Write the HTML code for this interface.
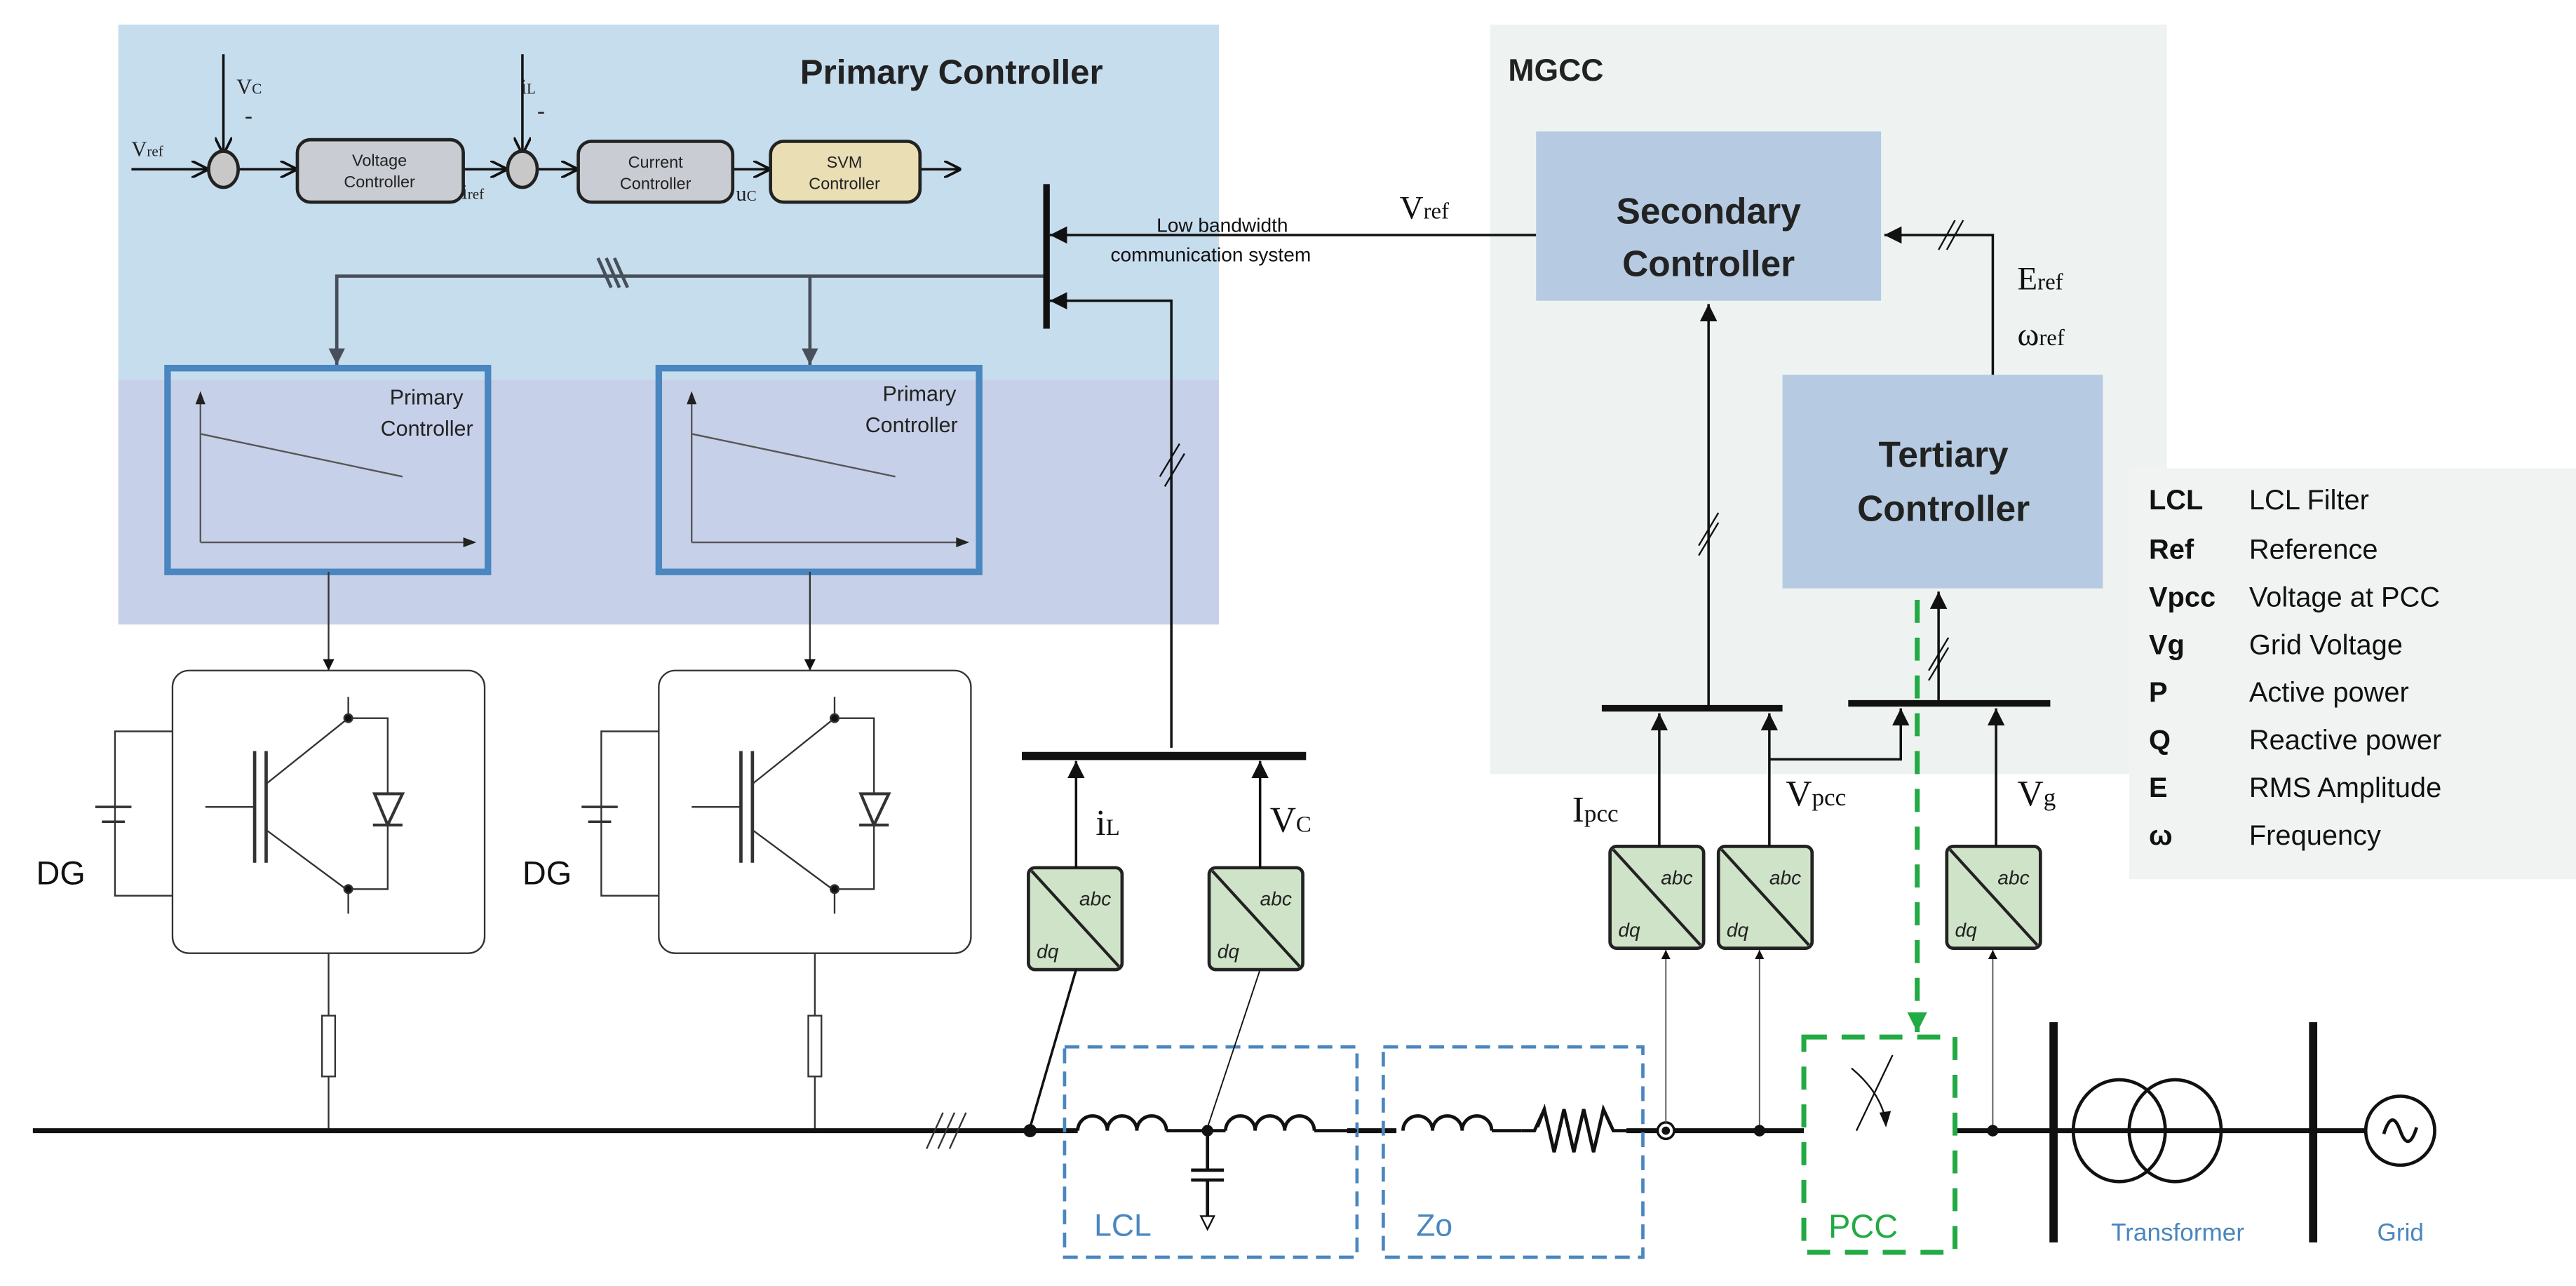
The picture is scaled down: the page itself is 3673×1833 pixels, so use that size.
<!DOCTYPE html>
<html><head><meta charset="utf-8"><style>
html,body{margin:0;padding:0;background:#fff;}
svg{display:block;}
.s{font-family:"Liberation Sans",sans-serif;}
.r{font-family:"Liberation Serif",serif;}
</style></head><body>
<svg width="3673" height="1833" viewBox="0 0 1568 782.5" preserveAspectRatio="none" xmlns="http://www.w3.org/2000/svg">
<defs>
<marker id="a" viewBox="0 0 10 10" refX="10" refY="5" markerWidth="7" markerHeight="7" orient="auto-start-reverse"><path d="M0,0L10,5L0,10z" fill="#111"/></marker>
<marker id="o" viewBox="0 0 10 10" refX="10" refY="5" markerWidth="7" markerHeight="7" orient="auto"><path d="M0,0L10,5L0,10" fill="none" stroke="#111" stroke-width="1.5"/></marker>
<marker id="g" viewBox="0 0 10 10" refX="10" refY="5" markerWidth="4" markerHeight="4" orient="auto"><path d="M0,0L10,5L0,10z" fill="#22aa44"/></marker>
<marker id="d" viewBox="0 0 10 10" refX="10" refY="5" markerWidth="6" markerHeight="5" orient="auto"><path d="M0,0L10,5L0,10z" fill="#474f5a"/></marker>
</defs>
<!-- panels -->
<rect x="72" y="15" width="670" height="216" fill="#c6ddee"/>
<rect x="72" y="231" width="670" height="149" fill="#c6d0e8"/>
<rect x="907" y="15" width="412" height="456" fill="#eef3f2"/>
<rect x="1296" y="285" width="272" height="250" fill="#f1f3f3"/>
<text x="487" y="51" class="s" font-size="21" font-weight="bold" fill="#222">Primary Controller</text>
<text x="918" y="49" class="s" font-size="19" font-weight="bold" fill="#222">MGCC</text>
<!-- top control chain -->
<g stroke="#111" stroke-width="1.5" fill="none">
<line x1="80" y1="103" x2="127" y2="103" marker-end="url(#o)"/>
<line x1="136" y1="33" x2="136" y2="94" marker-end="url(#o)"/>
<line x1="145" y1="103" x2="181" y2="103" marker-end="url(#o)"/>
<line x1="282" y1="103" x2="309" y2="103" marker-end="url(#o)"/>
<line x1="318" y1="33" x2="318" y2="94" marker-end="url(#o)"/>
<line x1="327" y1="103" x2="352" y2="103" marker-end="url(#o)"/>
<line x1="446" y1="103" x2="469" y2="103" marker-end="url(#o)"/>
<line x1="560" y1="103" x2="585" y2="103" marker-end="url(#o)"/>
</g>
<g stroke="#222" stroke-width="2">
<ellipse cx="136" cy="103" rx="9" ry="11" fill="#c8c8c8"/>
<ellipse cx="318" cy="103" rx="9" ry="11" fill="#c8c8c8"/>
<rect x="181" y="85" width="101" height="38" rx="8" fill="#c9ccd2"/>
<rect x="352" y="86" width="94" height="37" rx="8" fill="#c9ccd2"/>
<rect x="469" y="86" width="91" height="37" rx="8" fill="#e9deb4"/>
</g>
<g class="s" font-size="10" fill="#222" text-anchor="middle">
<text x="231" y="101">Voltage</text><text x="231" y="114">Controller</text>
<text x="399" y="102">Current</text><text x="399" y="115">Controller</text>
<text x="514" y="102">SVM</text><text x="514" y="115">Controller</text>
</g>
<g class="r" fill="#222" font-size="13">
<text x="80" y="95">V<tspan font-size="9">ref</tspan></text>
<text x="144" y="57">V<tspan font-size="9">C</tspan></text>
<text x="149" y="75" font-size="14">-</text>
<text x="317" y="57">i<tspan font-size="9">L</tspan></text>
<text x="327" y="72" font-size="14">-</text>
<text x="281" y="121">i<tspan font-size="9">ref</tspan></text>
<text x="448" y="122">u<tspan font-size="9">C</tspan></text>
</g>
<!-- comm bar -->
<line x1="637" y1="112" x2="637" y2="200" stroke="#111" stroke-width="4"/>
<line x1="935" y1="143" x2="639" y2="143" stroke="#111" stroke-width="1.5" marker-end="url(#a)"/>
<polyline points="713,455 713,183 639,183" fill="none" stroke="#111" stroke-width="1.5" marker-end="url(#a)"/>
<text x="704" y="141" class="s" font-size="12" fill="#111">Low bandwidth</text>
<text x="676" y="159" class="s" font-size="12" fill="#111">communication system</text>
<text x="852" y="133" class="r" font-size="20" fill="#111">V<tspan font-size="14">ref</tspan></text>
<line x1="706" y1="290" x2="718" y2="270" stroke="#111" stroke-width="1"/>
<line x1="709" y1="296" x2="721" y2="276" stroke="#111" stroke-width="1"/>
<g stroke="#474f5a" stroke-width="2" fill="none">
<polyline points="635,168 205,168 205,222" marker-end="url(#d)"/>
<line x1="493" y1="168" x2="493" y2="222" marker-end="url(#d)"/>
<line x1="364" y1="157" x2="372" y2="175"/><line x1="369" y1="157" x2="377" y2="175"/><line x1="374" y1="157" x2="382" y2="175"/>
</g>
<!-- droop boxes -->
<g stroke="#4a86bf" stroke-width="4" fill="none">
<rect x="102" y="224" width="195" height="124"/>
<rect x="401" y="224" width="195" height="124"/>
</g>
<g stroke="#555" stroke-width="1" fill="none">
<line x1="122" y1="330" x2="122" y2="243"/><line x1="122" y1="330" x2="285" y2="330"/><line x1="122" y1="264" x2="245" y2="290"/>
<line x1="421" y1="330" x2="421" y2="243"/><line x1="421" y1="330" x2="585" y2="330"/><line x1="421" y1="264" x2="545" y2="290"/>
</g>
<g fill="#222"><path d="M119,246L122,238L125,246z"/><path d="M418,246L421,238L424,246z"/><path d="M282,327L290,330L282,333z"/><path d="M582,327L590,330L582,333z"/></g>
<g class="s" font-size="13" fill="#222" text-anchor="end">
<text x="282" y="246">Primary</text><text x="288" y="265">Controller</text>
<text x="582" y="244">Primary</text><text x="583" y="263">Controller</text>
</g>
<!-- converters -->
<g stroke="#333" stroke-width="1" fill="none">
<line x1="200" y1="348" x2="200" y2="408" marker-end="url(#a)"/>
<line x1="493" y1="348" x2="493" y2="408" marker-end="url(#a)"/>
</g>
<g id="conv" stroke="#333" fill="none" stroke-width="1">
<rect x="105" y="408" width="190" height="172" rx="10" fill="#fff"/>
<polyline points="105,445 70,445 70,545 105,545"/>
<line x1="58" y1="491" x2="80" y2="491" stroke-width="1.5"/><line x1="62" y1="500" x2="76" y2="500" stroke-width="1.5"/>
<line x1="155" y1="457" x2="155" y2="525" stroke-width="2"/><line x1="162" y1="457" x2="162" y2="525" stroke-width="2"/>
<line x1="125" y1="491" x2="155" y2="491"/>
<polyline points="162,477 212,437 212,424"/><polyline points="162,505 212,542 212,556"/>
<polyline points="212,437 236,437 236,541 212,541"/>
<path d="M227,502 L245,502 M228,483 L245,483 L236,502z" stroke-width="1.8" fill="#fff"/>
<circle cx="212" cy="437" r="2.5" fill="#111"/><circle cx="212" cy="541" r="2.5" fill="#111"/>
<line x1="200" y1="580" x2="200" y2="618"/><rect x="196" y="618" width="8" height="37" fill="#fff"/><line x1="200" y1="655" x2="200" y2="688"/>
</g>
<use href="#conv" transform="translate(296,0)"/>
<text x="22" y="538" class="s" font-size="20" fill="#111">DG</text>
<text x="318" y="538" class="s" font-size="20" fill="#111">DG</text>
<!-- main bus -->
<line x1="20" y1="688" x2="1440" y2="688" stroke="#111" stroke-width="3"/>
<g stroke="#333" stroke-width="1"><line x1="564" y1="699" x2="574" y2="677"/><line x1="571" y1="699" x2="581" y2="677"/><line x1="578" y1="699" x2="588" y2="677"/></g>
<circle cx="627" cy="688" r="4" fill="#111"/>
<!-- LCL & Zo -->
<g stroke="#4a86bf" stroke-width="2" stroke-dasharray="9,5" fill="none">
<rect x="648" y="637" width="178" height="128"/><rect x="842" y="637" width="158" height="128"/>
</g>
<g stroke="#111" stroke-width="2" fill="none">
<path d="M656,688 a9,9 0 0 1 18,0 a9,9 0 0 1 18,0 a9,9 0 0 1 18,0"/>
<path d="M746,688 a9,9 0 0 1 18,0 a9,9 0 0 1 18,0 a9,9 0 0 1 18,0"/>
<path d="M854,688 a9,9 0 0 1 18,0 a9,9 0 0 1 18,0 a9,9 0 0 1 18,0"/>
<polyline points="935,688 940,675 946,701 952,675 958,701 964,675 970,701 976,675 982,688"/>
<line x1="735" y1="688" x2="735" y2="712"/><line x1="725" y1="712" x2="745" y2="712"/><line x1="725" y1="718" x2="745" y2="718"/><line x1="735" y1="718" x2="735" y2="740"/>
</g>
<rect x="656" y="686" width="164" height="4" fill="#fff"/><rect x="850" y="686" width="140" height="4" fill="#fff"/>
<g stroke="#111" stroke-width="2" fill="none">
<path d="M656,688 a9,9 0 0 1 18,0 a9,9 0 0 1 18,0 a9,9 0 0 1 18,0"/>
<path d="M746,688 a9,9 0 0 1 18,0 a9,9 0 0 1 18,0 a9,9 0 0 1 18,0"/>
<path d="M854,688 a9,9 0 0 1 18,0 a9,9 0 0 1 18,0 a9,9 0 0 1 18,0"/>
<polyline points="926,688 934,688 940,675 946,701 952,675 958,701 964,675 970,701 976,675 982,688 990,688"/>
<line x1="710" y1="688" x2="746" y2="688"/><line x1="800" y1="688" x2="826" y2="688"/><line x1="908" y1="688" x2="926" y2="688"/>
</g>
<path d="M731,740 L739,740 L735,748z" fill="#fff" stroke="#111"/>
<circle cx="735" cy="688" r="3.5" fill="#111"/>
<circle cx="1014" cy="688" r="5" fill="#fff" stroke="#111" stroke-width="1.5"/><circle cx="1014" cy="688" r="2.5" fill="#111"/>
<text x="666" y="752" class="s" font-size="19" fill="#4a86bf">LCL</text>
<text x="862" y="752" class="s" font-size="19" fill="#4a86bf">Zo</text>
<!-- left measurement -->
<line x1="622" y1="460" x2="795" y2="460" stroke="#111" stroke-width="5"/>
<g id="abc"><rect x="626" y="528" width="57" height="62" rx="4" fill="#cfe3c8" stroke="#222" stroke-width="2"/><line x1="628" y1="530" x2="681" y2="588" stroke="#222" stroke-width="1.8"/>
<text x="657" y="551" class="s" font-size="12" font-style="italic" fill="#222">abc</text><text x="631" y="583" class="s" font-size="12" font-style="italic" fill="#222">dq</text></g>
<use href="#abc" transform="translate(110,0)"/>
<line x1="655" y1="528" x2="655" y2="463" stroke="#111" stroke-width="1.5" marker-end="url(#a)"/>
<line x1="767" y1="528" x2="767" y2="463" stroke="#111" stroke-width="1.5" marker-end="url(#a)"/>
<line x1="655" y1="590" x2="627" y2="686" stroke="#111" stroke-width="1.5"/>
<line x1="767" y1="590" x2="735" y2="686" stroke="#111" stroke-width="0.8"/>
<text x="667" y="508" class="r" font-size="22" fill="#111">i<tspan font-size="14">L</tspan></text>
<text x="773" y="506" class="r" font-size="22" fill="#111">V<tspan font-size="14">C</tspan></text>
<!-- MGCC -->
<rect x="935" y="80" width="210" height="103" fill="#b6cbe1"/>
<rect x="1085" y="228" width="195" height="130" fill="#b6cbe1"/>
<text x="1040" y="136" class="s" font-size="22" font-weight="bold" fill="#222" text-anchor="middle">Secondary</text>
<text x="1040" y="168" class="s" font-size="22" font-weight="bold" fill="#222" text-anchor="middle">Controller</text>
<text x="1183" y="284" class="s" font-size="22" font-weight="bold" fill="#222" text-anchor="middle">Tertiary</text>
<text x="1183" y="317" class="s" font-size="22" font-weight="bold" fill="#222" text-anchor="middle">Controller</text>
<polyline points="1213,228 1213,143 1147,143" fill="none" stroke="#111" stroke-width="1.5" marker-end="url(#a)"/>
<line x1="1180" y1="152" x2="1190" y2="134" stroke="#111"/><line x1="1185" y1="152" x2="1195" y2="134" stroke="#111"/>
<text x="1228" y="176" class="r" font-size="20" fill="#111">E<tspan font-size="14">ref</tspan></text>
<text x="1228" y="210" class="r" font-size="20" fill="#111">ω<tspan font-size="14">ref</tspan></text>
<line x1="1040" y1="430" x2="1040" y2="185" stroke="#111" stroke-width="1.5" marker-end="url(#a)"/>
<line x1="1034" y1="332" x2="1046" y2="312" stroke="#111"/><line x1="1034" y1="338" x2="1046" y2="318" stroke="#111"/>
<line x1="1180" y1="426" x2="1180" y2="360" stroke="#111" stroke-width="1.5" marker-end="url(#a)"/>
<line x1="1174" y1="408" x2="1186" y2="388" stroke="#111"/><line x1="1174" y1="414" x2="1186" y2="394" stroke="#111"/>
<line x1="975" y1="431" x2="1085" y2="431" stroke="#111" stroke-width="4"/>
<line x1="1125" y1="428" x2="1248" y2="428" stroke="#111" stroke-width="4"/>
<use href="#abc" transform="translate(354,-13)"/>
<use href="#abc" transform="translate(420,-13)"/>
<use href="#abc" transform="translate(559,-13)"/>
<g stroke="#111" stroke-width="1.5" fill="none">
<line x1="1010" y1="515" x2="1010" y2="434" marker-end="url(#a)"/>
<line x1="1077" y1="515" x2="1077" y2="434" marker-end="url(#a)"/>
<polyline points="1077,462 1157,462 1157,431" marker-end="url(#a)"/>
<line x1="1215" y1="515" x2="1215" y2="431" marker-end="url(#a)"/>
</g>
<g stroke="#555" stroke-width="0.8" fill="none">
<line x1="1014" y1="684" x2="1014" y2="578" marker-end="url(#a)"/>
<line x1="1071" y1="688" x2="1071" y2="578" marker-end="url(#a)"/>
<line x1="1213" y1="688" x2="1213" y2="578" marker-end="url(#a)"/>
</g>
<circle cx="1071" cy="688" r="3.5" fill="#111"/><circle cx="1213" cy="688" r="3.5" fill="#111"/>
<text x="957" y="500" class="r" font-size="22" fill="#111">I<tspan font-size="15">pcc</tspan></text>
<text x="1087" y="490" class="r" font-size="22" fill="#111">V<tspan font-size="15">pcc</tspan></text>
<text x="1228" y="490" class="r" font-size="22" fill="#111">V<tspan font-size="15">g</tspan></text>
<!-- PCC -->
<line x1="1167" y1="365" x2="1167" y2="628" stroke="#22aa44" stroke-width="3" stroke-dasharray="14,9" marker-end="url(#g)"/>
<rect x="1098" y="631" width="92" height="131" fill="#fff" stroke="#22aa44" stroke-width="3" stroke-dasharray="14,9"/>
<rect x="1130" y="684" width="28" height="8" fill="#fff"/>
<line x1="1130" y1="688" x2="1152" y2="642" stroke="#111" stroke-width="1"/>
<path d="M1127,650 Q1145,665 1148,683" fill="none" stroke="#111" stroke-width="1"/>
<path d="M1144,677 L1148,686 L1151,676z" fill="#111"/>
<text x="1113" y="753" class="s" font-size="20" fill="#22aa44">PCC</text>
<!-- grid side -->
<line x1="1250" y1="622" x2="1250" y2="756" stroke="#111" stroke-width="5"/>
<line x1="1408" y1="622" x2="1408" y2="756" stroke="#111" stroke-width="5"/>
<g stroke="#111" stroke-width="2" fill="none">
<ellipse cx="1290" cy="688" rx="28" ry="31"/><ellipse cx="1324" cy="688" rx="28" ry="31"/>
<circle cx="1461" cy="688" r="21"/><path d="M1451,690 q5,-16 10,-2 q5,14 10,-2"/>
</g>
<text x="1285" y="755" class="s" font-size="15" fill="#4a86bf">Transformer</text>
<text x="1447" y="755" class="s" font-size="15" fill="#4a86bf">Grid</text>
<!-- legend -->
<g class="s" font-size="17" fill="#111">
<g font-weight="bold"><text x="1308" y="310">LCL</text><text x="1308" y="340">Ref</text><text x="1308" y="369">Vpcc</text><text x="1308" y="398">Vg</text><text x="1308" y="427">P</text><text x="1308" y="456">Q</text><text x="1308" y="485">E</text><text x="1308" y="514">ω</text></g>
<text x="1369" y="310">LCL Filter</text><text x="1369" y="340">Reference</text><text x="1369" y="369">Voltage at PCC</text><text x="1369" y="398">Grid Voltage</text><text x="1369" y="427">Active power</text><text x="1369" y="456">Reactive power</text><text x="1369" y="485">RMS Amplitude</text><text x="1369" y="514">Frequency</text>
</g>
</svg>
</body></html>
